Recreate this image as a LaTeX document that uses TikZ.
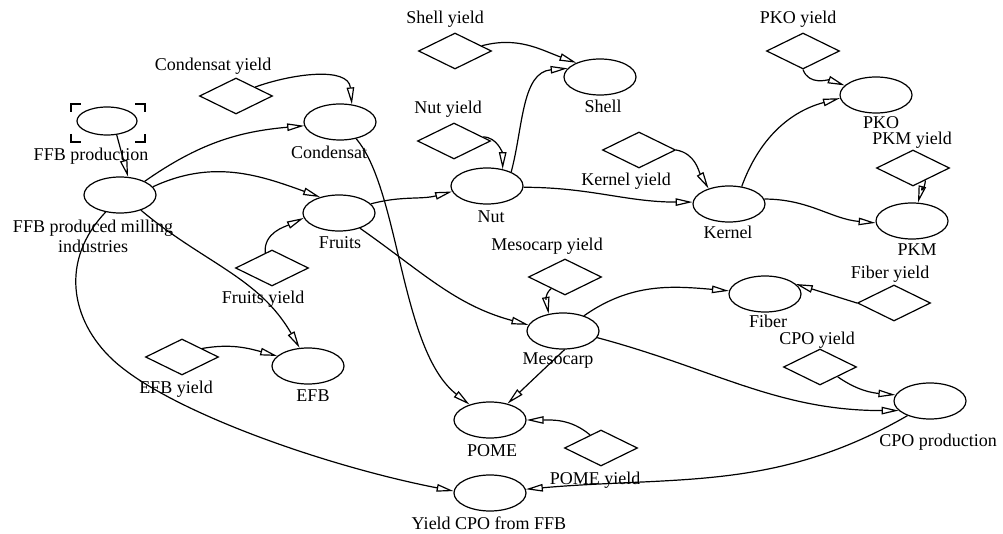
\documentclass[tikz,border=0pt]{standalone}
\usepackage{fontspec}
\setmainfont{Liberation Serif}
\usetikzlibrary{shapes.geometric,arrows.meta}
\begin{document}
\begin{tikzpicture}[x=1pt,y=1pt,
  every node/.style={font=\fontsize{18}{20}\selectfont},
  stock/.style={draw,ellipse,line width=1.2pt,minimum width=72pt,minimum height=36pt,inner sep=0pt},
  rate/.style={draw,diamond,line width=1.2pt,minimum width=73pt,minimum height=36pt,inner sep=0pt},
  lbl/.style={inner sep=0pt,anchor=base},
  link/.style={line width=1.2pt,-{Triangle[open,length=17pt,width=7.5pt]}},
  bracket/.style={line width=1.6pt},
]
\useasboundingbox (0,0) rectangle (1003,533);

% stocks
\node[stock,minimum width=60pt,minimum height=28pt] (ffbp) at (107,412) {};
\node[stock] (ffbm)   at (120,338) {};
\node[stock] (cond)   at (340,411) {};
\node[stock] (fruits) at (339,320) {};
\node[stock] (nut)    at (487,347) {};
\node[stock] (shell)  at (600,456) {};
\node[stock] (pko)    at (876,438) {};
\node[stock] (kernel) at (729,329) {};
\node[stock] (pkm)    at (912,312) {};
\node[stock] (meso)   at (563,202) {};
\node[stock] (fiber)  at (765,239) {};
\node[stock] (cpo)    at (930,132) {};
\node[stock] (pome)   at (490,113) {};
\node[stock] (ycpo)   at (490,40)  {};
\node[stock] (efb)    at (308,167) {};

% shadow-variable corners
\draw[bracket] (71,421) -- (71,429) -- (81,429);
\draw[bracket] (135,429) -- (145,429) -- (145,421);
\draw[bracket] (71,399) -- (71,391) -- (81,391);
\draw[bracket] (135,391) -- (145,391) -- (145,399);

% rates
\node[rate] (rcond)   at (236,437) {};
\node[rate] (rshell)  at (455,482) {};
\node[rate] (rnut)    at (454,392) {};
\node[rate] (rkernel) at (639,383) {};
\node[rate] (rpko)    at (803,482) {};
\node[rate] (rpkm)    at (913,365) {};
\node[rate] (rfruits) at (272,265) {};
\node[rate] (rmeso)   at (565,256) {};
\node[rate] (rfiber)  at (894,230) {};
\node[rate] (rcpo)    at (820,166) {};
\node[rate] (rpome)   at (601,85)  {};
\node[rate] (refb)    at (182,176) {};

% labels
\node[lbl] (t-ffbp)   at (91,372)  {FFB production};
\node[inner sep=0pt,align=center] (t-ffbm) at (93,297) {FFB produced milling\\industries};
\node[lbl] (t-cond)   at (329,374) {Condensat};
\node[lbl] (t-fruits) at (340,284) {Fruits};
\node[lbl] (t-nut)    at (491,310) {Nut};
\node[lbl] (t-meso)   at (558,168) {Mesocarp};
\node[lbl] (t-shell)  at (603,420) {Shell};
\node[lbl] (t-pko)    at (881,404) {PKO};
\node[lbl] (t-kernel) at (728,294) {Kernel};
\node[lbl] (t-pkm)    at (917,277) {PKM};
\node[lbl] (t-fiber)  at (768,205) {Fiber};
\node[lbl] (t-cpo)    at (938,87)  {CPO production};
\node[lbl] (t-pome)   at (492,77)  {POME};
\node[lbl] (t-ycpo)   at (489,4)   {Yield CPO from FFB};
\node[lbl] (t-efb)    at (313,132) {EFB};
\node[lbl] (t-rcond)   at (213,462) {Condensat yield};
\node[lbl] (t-rshell)  at (445,509) {Shell yield};
\node[lbl] (t-rnut)    at (448,419) {Nut yield};
\node[lbl] (t-rkernel) at (626,347) {Kernel yield};
\node[lbl] (t-rpko)    at (798,509) {PKO yield};
\node[lbl] (t-rpkm)    at (912,388) {PKM yield};
\node[lbl] (t-rfruits) at (263,229) {Fruits yield};
\node[lbl] (t-rmeso)   at (547,282) {Mesocarp yield};
\node[lbl] (t-rfiber)  at (890,254) {Fiber yield};
\node[lbl] (t-rcpo)    at (817,189) {CPO yield};
\node[lbl] (t-rpome)   at (595,49)  {POME yield};
\node[lbl] (t-refb)    at (176,140) {EFB yield};

% links
\draw[link] (ffbp.-55) -- (ffbm.66);
\draw[link] (ffbm.29) to[out=35,in=185] (cond.186);
\draw[link] (ffbm.14) to[out=25,in=160] (fruits.140);
\draw[link] (ffbm.-36) to[out=-40,in=120] (efb.115);
\draw[link] (ffbm.-130) .. controls (60,273) and (70,213) .. (113,173)
            .. controls (168,122) and (325,67) .. (ycpo.177);
\draw[link] (rcond.25) to[out=20,in=95] (cond.56);
\draw[link] (cond.-46) .. controls (400,343) and (400,183) .. (pome.143);
\draw[link] (rfruits.114) to[out=95,in=205] (fruits.188);
\draw[link] (fruits.16) to[out=15,in=195] (nut.189);
\draw[link] (fruits.-36) to[out=-35,in=165] (meso.170);
\draw[link] (rnut.8) to[out=0,in=90] (nut.47);
\draw[link] (nut.30) to[out=75,in=185] (shell.165);
\draw[link] (rshell.11) to[out=15,in=160] (shell.149);
\draw[link] (nut.-2) to[out=0,in=180] (kernel.177);
\draw[link] (rkernel.east) to[out=-10,in=120] (kernel.143);
\draw[link] (kernel.54) to[out=70,in=195] (pko.185);
\draw[link] (rpko.south) to[out=-70,in=160] (pko.163);
\draw[link] (kernel.8) to[out=0,in=175] (pkm.183);
\draw[link] (rpkm.-45) to[out=-95,in=75] (pkm.72);
\draw[link] (rmeso.-140) to[out=-140,in=100] (meso.130);
\draw[link] (meso.36) to[out=35,in=175] (fiber.175);
\draw[link] (rfiber.west) -- (fiber.18);
\draw[link] (meso.-11) to[out=-15,in=180] (cpo.197);
\draw[link] (rcpo.-29) to[out=-35,in=175] (cpo.170);
\draw[link] (meso.-85) -- (pome.43);
\draw[link] (rpome.130) to[out=140,in=0] (pome.east);
\draw[link] (cpo.213) to[out=210,in=5] (ycpo.6);
\draw[link] (refb.23) to[out=10,in=165] (efb.162);
\end{tikzpicture}
\end{document}
